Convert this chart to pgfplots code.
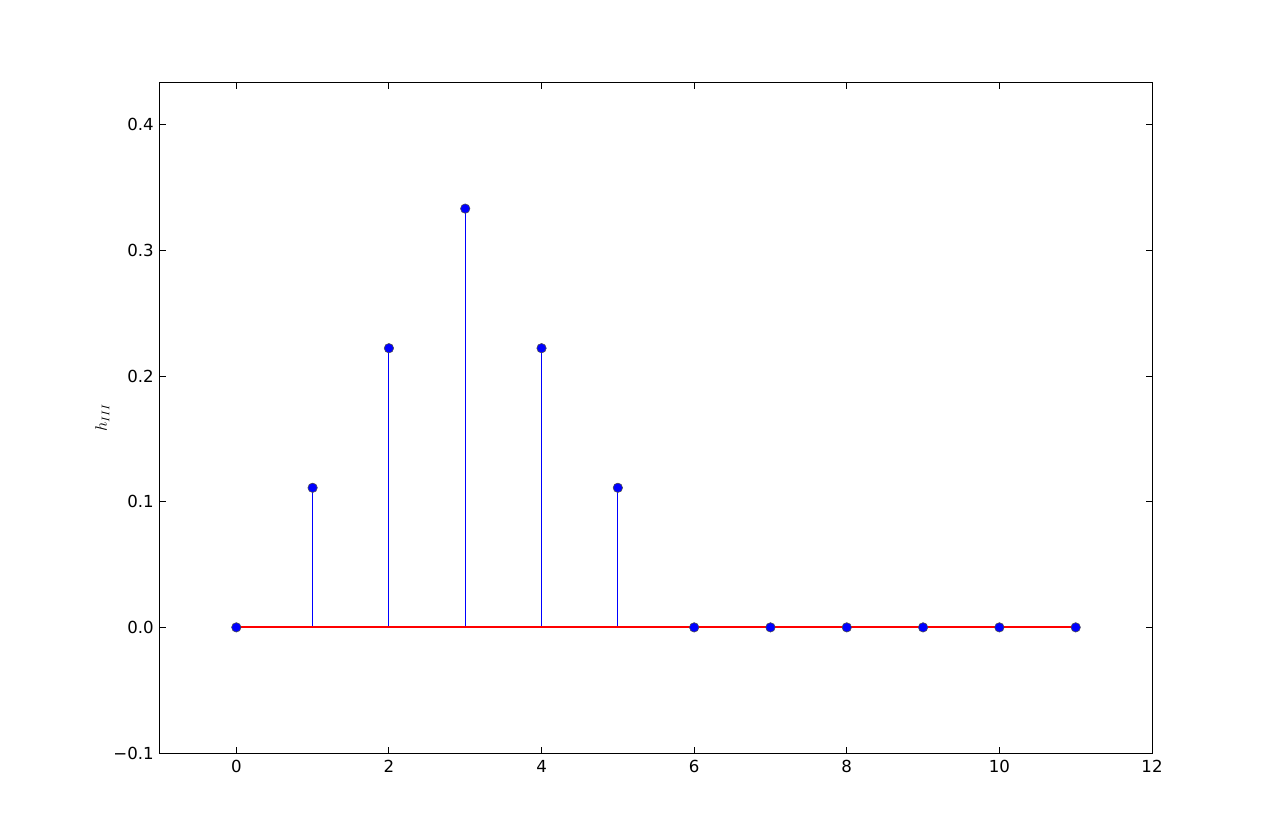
\documentclass[border=0pt]{standalone}
\usepackage{pgfplots}
\usepackage{pgfplotstable}
\pgfplotsset{compat=1.18}
\usepackage{fontspec}
\setmainfont{DejaVu Sans}
\begin{document}
\begin{tikzpicture}[x=1bp,y=1bp]
\pgfplotstableread{
n h
0 0
1 0.111111
2 0.222222
3 0.333333
4 0.222222
5 0.111111
6 0
7 0
8 0
9 0
10 0
11 0
}\hdata
\pgfplotstableread{
n b
0 0
11 0
}\basedata
\begin{axis}[
    at={(0,0)}, anchor=south west,
    scale only axis,
    width=714.24bp, height=482.4bp,
    xmin=-1, xmax=12,
    ymin=-0.1, ymax=0.43333,
    xtick={0,2,4,6,8,10,12},
    xticklabels={0,2,4,6,8,10,12},
    ytick={-0.1,0,0.1,0.2,0.3,0.4},
    yticklabels={−0.1,0.0,0.1,0.2,0.3,0.4},
    tick align=inside,
    major tick length=4pt,
    minor tick num=0,
    axis line style={line width=0.72bp},
    every tick/.style={black, line width=0.72bp},
    ticklabel style={font=\fontsize{12}{14}\selectfont},
    xticklabel style={yshift=-2pt},
    yticklabel style={xshift=-1pt},
    ylabel={$h_{III}$},
    ylabel style={font=\fontsize{12}{14}\selectfont, yshift=-4pt},
    clip=false,
]
\addplot+[ycomb, draw=blue, line width=0.8bp, mark=none] table[x=n,y=h]{\hdata};
\addplot+[only marks, mark=*, mark size=3.4bp,
    mark options={fill=blue, draw=black!70, line width=0.4bp}] table[x=n,y=h]{\hdata};
\addplot+[sharp plot, draw=red, line width=1.5bp, mark=none] table[x=n,y=b]{\basedata};
\end{axis}
\pgfresetboundingbox
\path[use as bounding box] (-115.2bp,-60.48bp) rectangle (806.4bp,542.16bp);
\end{tikzpicture}
\end{document}
